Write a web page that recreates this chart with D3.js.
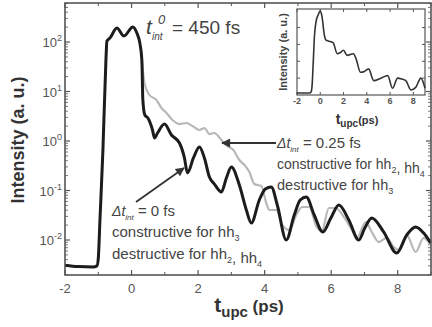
<!DOCTYPE html>
<html><head><meta charset="utf-8">
<script src="https://cdn.jsdelivr.net/npm/d3@7"></script>
<style>
html,body{margin:0;padding:0;background:#fff;}
svg{display:block;font-family:"Liberation Sans",Arial,Helvetica,sans-serif;}
</style></head>
<body>
<svg id="chart" width="432" height="327"></svg>
<script>
// ---- data ----
const tBlack = [-2.00,-1.60,-1.16,-1.04,-1.00,-0.95,-0.86,-0.77,-0.74,-0.65,-0.44,-0.23,0.04,0.16,0.25,0.31,0.34,0.40,0.49,0.63,0.69,0.78,0.99,1.20,1.44,1.59,1.68,1.86,2.04,2.19,2.34,2.49,2.70,2.85,3.00,3.24,3.45,3.60,3.84,4.02,4.20,4.38,4.65,4.89,5.07,5.25,5.49,5.75,5.99,6.23,6.53,6.83,7.01,7.22,7.58,7.97,8.27,8.54,8.78,8.99];
const iBlack = [0.0031,0.0029,0.00285,0.0030,0.0042,0.025,0.66,43,105,120,192,132,201,152,95,43,6.7,3.35,2.92,1.67,1.15,1.45,2.2,1.32,0.91,0.454,0.226,0.454,0.757,0.454,0.187,0.135,0.093,0.179,0.298,0.129,0.0404,0.022,0.0643,0.107,0.118,0.0509,0.0100,0.032,0.0643,0.074,0.032,0.0145,0.0278,0.0509,0.0254,0.0100,0.0175,0.0278,0.0145,0.00546,0.0126,0.0183,0.0138,0.0087];
const tGrey = [0.31,0.40,0.54,0.75,0.90,1.05,1.23,1.44,1.65,1.83,2.04,2.19,2.34,2.49,2.70,2.88,3.06,3.24,3.42,3.54,3.69,3.90,4.05,4.14,4.35,4.53,4.74,4.95,5.13,5.34,5.55,5.72,5.93,6.14,6.38,6.59,6.77,7.04,7.22,7.43,7.67,7.88,8.03,8.27,8.54,8.78,8.99];
const iGrey = [43,13.5,8.5,6.7,4.64,3.68,2.65,2.2,2.31,2.01,1.67,1.83,1.38,1.45,1.05,0.79,0.658,0.413,0.313,0.237,0.135,0.123,0.0558,0.0404,0.0404,0.0201,0.0159,0.032,0.0464,0.0464,0.0192,0.0152,0.0443,0.0443,0.0292,0.0175,0.011,0.0231,0.0145,0.0091,0.011,0.00723,0.00628,0.0126,0.00573,0.011,0.00792];
const tInset = [-2.0,-1.5,-0.9,-0.78,-0.7,-0.6,-0.5,-0.35,-0.15,0.0,0.15,0.34,0.5,0.7,1.1,1.46,1.7,2.0,2.3,2.85,3.1,3.45,3.8,4.15,4.6,5.2,5.8,6.2,6.65,7.0,7.35,7.8,8.2,8.65,9.0];
const iInset = [0.023,0.023,0.023,0.04,0.12,0.4,0.7,0.88,0.96,1.0,0.93,0.72,0.65,0.64,0.62,0.49,0.5,0.53,0.47,0.49,0.42,0.27,0.28,0.31,0.17,0.2,0.23,0.08,0.2,0.19,0.17,0.06,0.09,0.2,0.08];
const xTicks = [-2,0,2,4,6,8];
const yDecades = [-2,-1,0,1,2];
const insetXTicks = [-2,0,2,4,6,8];

// ---- main plot ----
const svg = d3.select("#chart");
const L=65, R=431, T=3, B=275;
const x = d3.scaleLinear().domain([-2,9]).range([L,R]);
const y = d3.scaleLog().domain([Math.pow(10,-2.707), Math.pow(10,2.788)]).range([B,T]);
const frame = "#555";

// ticks
const minorX = d3.range(-1,10,2);
function xt(sel, ypos, dir){
  sel.selectAll(null).data(xTicks).enter().append("line")
    .attr("x1",d=>x(d)).attr("x2",d=>x(d)).attr("y1",ypos).attr("y2",ypos+dir*5)
    .attr("stroke",frame).attr("stroke-width",1.2);
  sel.selectAll(null).data(minorX).enter().append("line")
    .attr("x1",d=>x(d)).attr("x2",d=>x(d)).attr("y1",ypos).attr("y2",ypos+dir*3)
    .attr("stroke",frame).attr("stroke-width",1);
}
const tickG = svg.append("g");
xt(tickG, B, -1); xt(tickG, T, 1);
const yMinor=[];
for(let e=-3;e<=2;e++) for(let m=2;m<=9;m++){const v=m*Math.pow(10,e); if(v>y.domain()[0]&&v<y.domain()[1]) yMinor.push(v);}
[[L,1],[R,-1]].forEach(([xp,dir])=>{
  tickG.selectAll(null).data(yDecades).enter().append("line")
    .attr("x1",xp).attr("x2",xp+dir*5).attr("y1",d=>y(Math.pow(10,d))).attr("y2",d=>y(Math.pow(10,d)))
    .attr("stroke",frame).attr("stroke-width",1.2);
  tickG.selectAll(null).data(yMinor).enter().append("line")
    .attr("x1",xp).attr("x2",xp+dir*3).attr("y1",d=>y(d)).attr("y2",d=>y(d))
    .attr("stroke",frame).attr("stroke-width",0.8);
});

// tick labels
svg.append("g").selectAll("text").data(xTicks).enter().append("text")
  .attr("x",d=>x(d)).attr("y",293).attr("text-anchor","middle")
  .attr("font-size",13).attr("fill","#555").text(d=>d);
const yl = svg.append("g").selectAll("text").data(yDecades).enter().append("text")
  .attr("x",62).attr("y",d=>y(Math.pow(10,d))+5).attr("text-anchor","end")
  .attr("font-size",13).attr("fill","#555");
yl.append("tspan").text("10");
yl.append("tspan").attr("dy",-6).attr("font-size",9).text(d=>String(d));

// lines
const line = d3.line().x(d=>x(d[0])).y(d=>y(d[1])).curve(d3.curveMonotoneX);
svg.append("path").datum(tGrey.map((t,i)=>[t,iGrey[i]]))
  .attr("d",line).attr("fill","none").attr("stroke","#b8b8b8").attr("stroke-width",2.2).attr("stroke-linejoin","round");
svg.append("path").datum(tBlack.map((t,i)=>[t,iBlack[i]]))
  .attr("d",line).attr("fill","none").attr("stroke","#1c1c1c").attr("stroke-width",3).attr("stroke-linejoin","round");

// frame
svg.append("rect").attr("x",L).attr("y",T).attr("width",R-L).attr("height",B-T)
  .attr("fill","none").attr("stroke",frame).attr("stroke-width",1.6);

// axis labels
svg.append("text").attr("transform","translate(24,140) rotate(-90)").attr("text-anchor","middle")
  .attr("font-size",18).attr("font-weight","bold").attr("fill","#333").text("Intensity (a. u.)");
const xl = svg.append("text").attr("x",249).attr("y",312).attr("text-anchor","middle")
  .attr("font-weight","bold").attr("fill","#333");
xl.append("tspan").attr("font-size",21).text("t");
xl.append("tspan").attr("font-size",15).attr("dy",5).text("upc");
xl.append("tspan").attr("font-size",17).attr("dy",-5).text(" (ps)");

// annotations
const ac = "#444";
const a0 = svg.append("g").attr("fill",ac);
a0.append("text").attr("x",146).attr("y",34).attr("font-size",21).attr("font-style","italic").text("t");
a0.append("text").attr("x",152).attr("y",40).attr("font-size",10).attr("font-style","italic").text("int");
a0.append("text").attr("x",158).attr("y",24).attr("font-size",13).attr("font-style","italic").text("0");
a0.append("text").attr("x",172).attr("y",34).attr("font-size",19).text("= 450 fs");

function dtLabel(xp, yp, val, fs){
  const g = svg.append("text").attr("x",xp).attr("y",yp).attr("font-size",fs).attr("fill",ac);
  g.append("tspan").attr("font-style","italic").attr("font-size",fs-1).text("\u0394t");
  g.append("tspan").attr("font-style","italic").attr("font-size",8).attr("dy",4).text("int");
  g.append("tspan").attr("dy",-4).text(" = "+val+" fs");
}
function hhLine(xp, yp, parts, fs){
  const g = svg.append("text").attr("x",xp).attr("y",yp).attr("font-size",fs).attr("fill",ac);
  parts.forEach(p=>{
    if(p.sub){ g.append("tspan").attr("font-size",9).attr("dy",4).text(p.sub); g.append("tspan").attr("dy",-4).text(""); }
    else g.append("tspan").text(p.t);
  });
}
dtLabel(277,148,"0.25",15);
hhLine(277,169,[{t:"constructive for hh"},{sub:"2"},{t:", hh"},{sub:"4"}],14);
hhLine(277,190,[{t:"destructive for hh"},{sub:"3"}],14.5);
dtLabel(112,216,"0",15);
hhLine(112,237,[{t:"constructive for hh"},{sub:"3"}],15);
hhLine(112,259,[{t:"destructive for hh"},{sub:"2"},{t:",  hh"},{sub:"4"}],15);

svg.append("defs").append("marker").attr("id","ah").attr("viewBox","0 0 10 10")
  .attr("refX",9).attr("refY",5).attr("markerWidth",7).attr("markerHeight",5).attr("orient","auto")
  .append("path").attr("d","M0,0 L10,5 L0,10 z").attr("fill","#333");
svg.append("line").attr("x1",276).attr("y1",143).attr("x2",222).attr("y2",143)
  .attr("stroke","#333").attr("stroke-width",1.8).attr("marker-end","url(#ah)");
svg.append("line").attr("x1",136).attr("y1",202).attr("x2",184).attr("y2",168)
  .attr("stroke","#333").attr("stroke-width",1.8).attr("marker-end","url(#ah)");

// ---- inset ----
const iL=297, iR=425, iT=9, iB=95;
const xi = d3.scaleLinear().domain([-2,9]).range([iL,iR]);
const yi = d3.scaleLinear().domain([0,1.02]).range([iB,iT]);
svg.append("rect").attr("x",iL).attr("y",iT).attr("width",iR-iL).attr("height",iB-iT)
  .attr("fill","#fff").attr("stroke",frame).attr("stroke-width",1.2);
const ig = svg.append("g");
ig.selectAll(null).data(insetXTicks).enter().append("line")
  .attr("x1",d=>xi(d)).attr("x2",d=>xi(d)).attr("y1",iB).attr("y2",iB-3).attr("stroke",frame);
ig.selectAll(null).data(insetXTicks).enter().append("line")
  .attr("x1",d=>xi(d)).attr("x2",d=>xi(d)).attr("y1",iT).attr("y2",iT+3).attr("stroke",frame);
const iyT=[0.2,0.4,0.6,0.8];
[[iL,1],[iR,-1]].forEach(([xp,dir])=>{
  ig.selectAll(null).data(iyT).enter().append("line")
    .attr("x1",xp).attr("x2",xp+dir*3).attr("y1",d=>yi(d)).attr("y2",d=>yi(d)).attr("stroke",frame);
});
ig.selectAll("text").data(insetXTicks).enter().append("text")
  .attr("x",d=>xi(d)).attr("y",104).attr("text-anchor","middle").attr("font-size",9)
  .attr("font-weight","bold").attr("fill","#555").text(d=>d);
svg.append("path").datum(tInset.map((t,i)=>[t,iInset[i]]))
  .attr("d",d3.line().x(d=>xi(d[0])).y(d=>yi(d[1])).curve(d3.curveMonotoneX))
  .attr("fill","none").attr("stroke","#333").attr("stroke-width",1.6);
svg.append("text").attr("transform","translate(287,52) rotate(-90)").attr("text-anchor","middle")
  .attr("font-size",11).attr("font-weight","bold").attr("fill","#444").text("Intensity (a. u.)");
const ixl = svg.append("text").attr("x",357).attr("y",124).attr("text-anchor","middle")
  .attr("font-weight","bold").attr("fill","#333");
ixl.append("tspan").attr("font-size",14).text("t");
ixl.append("tspan").attr("font-size",10).attr("dy",3).text("upc");
ixl.append("tspan").attr("font-size",11).attr("dy",-3).text("(ps)");
</script>
</body></html>
